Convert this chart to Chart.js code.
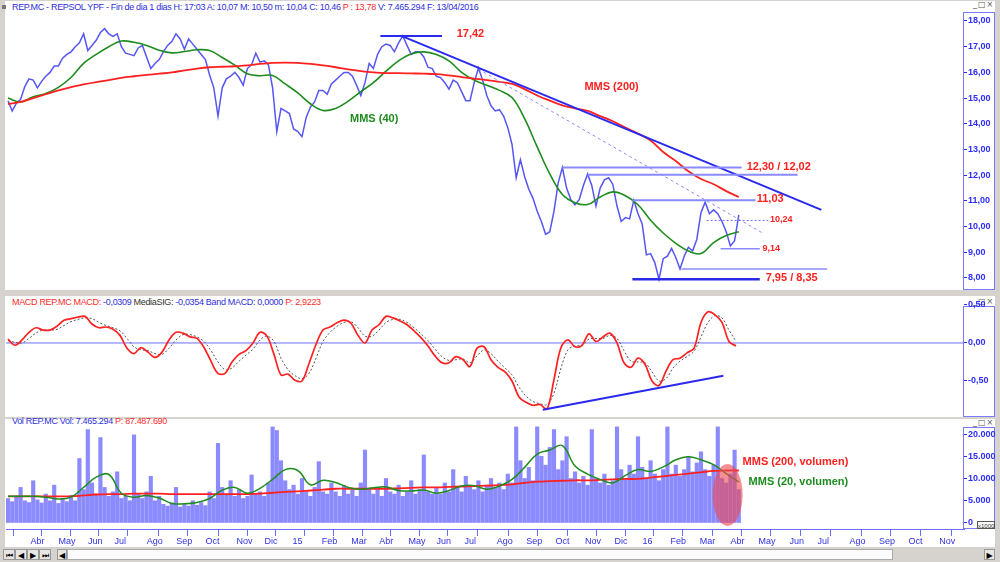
<!DOCTYPE html>
<html>
<head>
<meta charset="utf-8">
<script src="https://cdn.jsdelivr.net/npm/chart.js@4.4.1/dist/chart.umd.min.js"></script>
<style>
  body { margin: 0; width: 1000px; height: 562px; background: #d6d3ce; position: relative; overflow: hidden;
         font-family: "Liberation Sans", Arial, sans-serif; }
  .panel { position: absolute; background: #fff; }
  .axisbox { position: absolute; border: 1px solid #7b7bff; background: #fff; box-sizing: border-box; }
  .chart { position: absolute; }
  .hdr { position: absolute; font-size: 9px; line-height: 11px; white-space: nowrap; color: #2f2fdc; letter-spacing: -0.32px; }
  .r { color: #ff2b2b; }
  .k { color: #333; }
  .ctl { position: absolute; font: 8px "DejaVu Sans", sans-serif; color: #555; letter-spacing: 1px; }
  .btn { position: absolute; top: 549px; height: 11px; width: 12px; font: 8px "DejaVu Sans", sans-serif;
         color: #000; text-align: center; line-height: 11px; background: #e8e6e2; border: 1px solid #999; box-sizing: border-box; }
</style>
</head>
<body>
<div class="panel" style="left:5px;top:1px;width:990px;height:289px"></div>
<div class="panel" style="left:5px;top:296px;width:990px;height:121px"></div>
<div class="panel" style="left:5px;top:419px;width:990px;height:128px"></div>

<div class="axisbox" style="left:963px;top:12px;width:32px;height:278px"></div>
<div class="axisbox" style="left:963px;top:306px;width:32px;height:111px"></div>
<div class="axisbox" style="left:963px;top:427px;width:32px;height:102px"></div>

<div style="position:absolute;left:2px;top:5px;width:4px;height:4px;background:#777"></div>
<div class="hdr" style="left:12px;top:2px">REP.MC - REPSOL YPF - Fin de dia 1 dias H: 17:03 A: 10,07 M: 10,50 m: 10,04 C: 10,46 <span class="r">P : 13,78</span> V: 7.465.294 F: 13/04/2016</div>
<div class="hdr" style="left:12px;top:297px"><span class="r">MACD REP.MC MACD:</span> -0,0309 <span class="k">MediaSIG:</span> -0,0354 Band MACD: 0,0000 <span class="r">P: 2,9223</span></div>
<div class="hdr" style="left:12px;top:416px">Vol REP.MC Vol: 7.465.294 <span class="r">P: 87.487.690</span></div>

<div class="ctl" style="left:973px;top:0px">_□×</div>
<div class="ctl" style="left:973px;top:297px">_□×</div>
<div class="ctl" style="left:973px;top:418px">_□×</div>

<div style="position:absolute;left:977px;top:521px;width:18px;height:8px;border:1px solid #555;background:#fff;font:6px 'Liberation Sans',Arial;line-height:8px;text-align:center;box-sizing:border-box;color:#333">x1000</div>

<div class="chart" style="left:6px;top:12px;width:990px;height:278px"><canvas id="priceChart"></canvas></div>
<div class="chart" style="left:6px;top:297px;width:990px;height:120px"><canvas id="macdChart"></canvas></div>
<div class="chart" style="left:6px;top:418px;width:990px;height:130px"><canvas id="volumeChart"></canvas></div>

<div class="btn" style="left:3px">⏮</div>
<div class="btn" style="left:15px">◀</div>
<div class="btn" style="left:27px">▶</div>
<div class="btn" style="left:39px">⏭</div>
<div class="btn" style="left:57px;width:10px">◀</div>
<div style="position:absolute;left:67px;top:549px;width:826px;height:11px;background:#fbfbfb;border:1px solid #aaa;box-sizing:border-box"></div>
<div class="btn" style="left:984px;width:11px">▶</div>

<script>
// x axis is the trading-session index (session 0 = mid March 2014)
const monthTicks = [14, 34, 55, 74, 97, 118, 139, 161, 181, 201, 222, 243, 263, 284, 304, 324,
  347, 368, 389, 410, 431, 451, 471, 492, 514, 534, 556, 576, 599, 620, 641, 663];
const monthLabels = ["Abr", "May", "Jun", "Jul", "Ago", "Sep", "Oct", "Nov", "Dic", "15", "Feb", "Mar",
  "Abr", "May", "Jun", "Jul", "Ago", "Sep", "Oct", "Nov", "Dic", "16", "Feb", "Mar",
  "Abr", "May", "Jun", "Jul", "Ago", "Sep", "Oct", "Nov"];

const priceTicks = [8, 9, 10, 11, 12, 13, 14, 15, 16, 17, 18];
const macdTicks = [0.5, 0, -0.5];
const volumeTicks = [0, 5000, 10000, 15000, 20000];

// closes, one every 3 sessions
const closeStep = 3;
const closes = [
  14.9, 14.5, 14.8, 14.95, 15.45, 15.75, 15.7, 15.4, 15.65, 15.85,
  16.0, 16.25, 16.25, 16.55, 16.7, 16.8, 17.0, 17.15, 17.5, 16.85,
  17.05, 17.25, 17.55, 17.7, 17.5, 17.4, 17.5, 17.0, 16.75, 16.7,
  16.65, 16.95, 17.05, 16.6, 16.15, 16.35, 16.5, 16.8, 17.05, 17.2,
  17.5, 17.3, 16.9, 17.3, 17.1, 16.9, 16.7, 16.5, 15.9, 15.4,
  14.3, 15.4, 15.75, 15.85, 16.0, 15.8, 15.5, 16.15, 16.3, 16.75,
  16.4, 16.45, 16.3, 15.4, 13.7, 14.6, 14.5, 14.4, 13.8, 13.7,
  13.5, 14.25, 14.65, 14.85, 15.3, 15.3, 15.15, 15.55, 15.7, 15.85,
  16.0, 16.0, 15.85, 15.5, 15.1, 15.6, 16.35, 16.15, 16.7, 17.0,
  17.1, 17.05, 16.8, 17.15, 17.42, 17.05, 16.7, 16.8, 16.8, 16.6,
  16.2, 16.15, 15.85, 15.8, 15.6, 15.35, 15.7, 15.6, 15.25, 14.9,
  14.9, 15.6, 16.17, 15.7, 15.1, 14.7, 14.5, 14.55, 14.3, 13.85,
  13.2, 11.9, 12.6, 11.95, 11.45, 11.1, 10.6, 10.2, 9.7, 9.8,
  10.6, 11.7, 12.3, 11.5, 11.05, 10.85, 11.05, 11.6, 12.05, 11.6,
  10.8, 11.5, 11.82, 11.9, 11.65, 10.8, 10.2, 10.35, 10.3, 11.03,
  10.5, 10.1, 8.9, 8.95, 8.6, 7.95, 8.75, 8.85, 9.15, 8.8,
  8.35, 8.85, 9.2, 9.05, 9.5, 10.55, 10.95, 10.5, 10.65, 10.5,
  10.2, 9.8, 9.25, 9.45, 10.46
];

// moving averages, one every 9 sessions
const maStep = 9;
const mms40 = [
  15.0, 14.85, 15.05, 15.18, 15.42, 15.8, 16.35, 16.7, 17.0, 17.22,
  17.17, 17.05, 16.86, 16.76, 16.81, 16.88, 16.85, 16.58, 16.28, 15.95,
  15.87, 15.88, 15.55, 15.2, 14.78, 14.52, 14.6, 14.88, 15.25, 15.6,
  16.05, 16.45, 16.72, 16.8, 16.7, 16.45, 16.0, 15.7, 15.5, 15.3,
  15.02, 14.2, 13.1, 12.05, 11.25, 10.93, 10.86, 11.15, 11.35, 11.2,
  10.85, 10.25, 9.75, 9.35, 9.05, 8.95, 9.38, 9.65, 9.8
];
const mms200 = [
  14.77, 14.85, 15.0, 15.15, 15.3, 15.43, 15.53, 15.62, 15.7, 15.79,
  15.85, 15.9, 15.95, 16.0, 16.08, 16.15, 16.2, 16.22, 16.24, 16.27,
  16.33, 16.37, 16.38, 16.37, 16.33, 16.27, 16.2, 16.12, 16.05, 16.0,
  15.97, 15.97, 15.96, 15.95, 15.93, 15.88, 15.82, 15.76, 15.7, 15.63,
  15.55, 15.35, 15.1, 14.9, 14.72, 14.6, 14.5, 14.3, 14.1, 13.85,
  13.62, 13.35, 12.9, 12.55, 12.15, 11.85, 11.65, 11.38, 11.15
];

// support / resistance levels drawn on the price panel
const levelValues = [17.42, 12.30, 12.02, 11.03, 10.24, 9.14, 8.35, 7.95];
const levelFrom = [266, 396, 414, 446, 499, 509, 481, 446];
const levelTo = [310, 524, 564, 534, 543, 537, 585, 537];

// trend lines: [solid, dotted]
const trendFrom = [281, 336];
const trendTo = [581, 539];
const trendStart = [17.42, 16.13];
const trendEnd = [10.65, 9.75];

// MACD, one every 5 sessions
const macdStep = 5;
const macdLine = [
  0.05, -0.03, 0.04, 0.14, 0.2, 0.17, 0.17, 0.22, 0.3, 0.32,
  0.34, 0.35, 0.25, 0.2, 0.21, 0.18, 0.1, -0.07, -0.14, -0.06,
  -0.12, -0.19, -0.12, 0.04, 0.14, 0.13, 0.08, 0.06, -0.06, -0.24,
  -0.4, -0.4, -0.25, -0.15, -0.1, 0.0, 0.14, 0.09, -0.15, -0.42,
  -0.41, -0.49, -0.5, -0.27, -0.02, 0.17, 0.21, 0.265, 0.3, 0.26,
  0.1, 0.0, 0.17, 0.24, 0.35, 0.33, 0.29, 0.24, 0.16, 0.07,
  -0.04, -0.17, -0.26, -0.26, -0.18, -0.22, -0.31, -0.07, -0.05, -0.22,
  -0.32, -0.38, -0.5, -0.71, -0.78, -0.82, -0.81, -0.87, -0.48, -0.06,
  0.04, -0.05, -0.03, 0.12, 0.02, 0.08, 0.13, 0.0, -0.26, -0.32,
  -0.2, -0.28, -0.5, -0.56, -0.37, -0.22, -0.2, -0.13, -0.07, 0.27,
  0.41, 0.37, 0.27, 0.02, -0.04
];
const macdSignal = [
  0.03, 0.01, 0.0, 0.06, 0.13, 0.17, 0.17, 0.18, 0.23, 0.28,
  0.31, 0.33, 0.32, 0.27, 0.23, 0.2, 0.16, 0.06, -0.05, -0.09,
  -0.1, -0.14, -0.15, -0.07, 0.04, 0.11, 0.11, 0.08, 0.02, -0.1,
  -0.25, -0.35, -0.33, -0.24, -0.16, -0.08, 0.04, 0.09, 0.02, -0.2,
  -0.35, -0.43, -0.47, -0.4, -0.2, 0.02, 0.14, 0.22, 0.27, 0.28,
  0.2, 0.09, 0.09, 0.17, 0.27, 0.31, 0.31, 0.27, 0.2, 0.12,
  0.03, -0.08, -0.18, -0.23, -0.22, -0.21, -0.26, -0.17, -0.09, -0.14,
  -0.24, -0.33, -0.42, -0.58, -0.7, -0.77, -0.8, -0.81, -0.66, -0.33,
  -0.09, -0.04, -0.03, 0.05, 0.06, 0.06, 0.1, 0.06, -0.1, -0.24,
  -0.25, -0.26, -0.38, -0.5, -0.47, -0.33, -0.24, -0.18, -0.11, 0.08,
  0.27, 0.36, 0.33, 0.17, 0.02
];
const macdBand = 0;
const macdTrendX = [382, 511];
const macdTrendY = [-0.88, -0.43];

// volume in thousands of shares, one bar every 3 sessions
const volumeStep = 3;
const volume = [
  5500, 4800, 6000, 8000, 5000, 4600, 9500, 5200, 4500, 6500,
  5000, 8500, 4400, 5500, 4800, 6200, 5000, 14500, 7500, 21000,
  9000, 6500, 19200, 8000, 6000, 7000, 11500, 5500, 6000, 5000,
  19800, 6500, 5500, 7000, 10500, 5000, 6000, 4200, 3800, 4500,
  8000, 3600, 4300, 3800, 5000, 4000, 4600, 3900, 7000, 5500,
  17900, 8000, 6500, 9500, 6000, 7500, 5500, 6000, 10800, 6500,
  7000, 6000, 9000, 21600, 20800, 14000, 9500, 7500, 8500, 6500,
  10000, 7000, 6000, 8000, 13800, 7000, 6500, 9000, 7000, 6000,
  8500, 6500, 7500, 6000, 9000, 16400, 7500, 6500, 8000, 6000,
  10000, 7000, 6500, 8500, 6000, 7000, 9500, 6500, 7500, 15300,
  7000, 6500, 8000, 6500, 9000, 7000, 12000, 8000, 7000, 10500,
  8000, 7500, 9500, 7000, 8500, 10000, 8000, 9000, 7500, 11000,
  9000, 21600, 14000, 10000, 12500, 9500, 21600, 15000, 13000, 17000,
  21000, 12000, 14000, 19400, 10000, 11500, 9000, 10500, 8500, 21000,
  10000, 9000, 11000, 8500, 9500, 21600, 12000, 10000, 13000, 11000,
  19400, 12500, 10000, 14000, 11000, 9500, 12000, 21600, 11000, 13000,
  10500, 12000, 15000, 11500, 13500, 16000, 12000, 10500, 13000, 21600,
  10000, 9000, 11000, 16400, 7500
];
const volumeMms20 = [
  6000, 6000, 6000, 5800, 5400, 5800, 8000, 10300, 10900, 6700,
  5800, 6200, 5600, 4400, 4300, 4600, 5500, 7400, 8000, 6700,
  7800, 9800, 12000, 11800, 8600, 9600, 9100, 8000, 7600, 7900,
  8100, 7300, 7200, 7400, 6700, 7300, 8300, 8400, 7600, 8300,
  9800, 12500, 15500, 16400, 17400, 12800, 11000, 9800, 9000, 10700,
  12000, 11600, 12600, 14200, 14900, 14200, 13100, 11100, 9200
];
const volumeMms200 = [
  6000, 6000, 6000, 6000, 6000, 6000, 6200, 6400, 6500, 6500,
  6600, 6600, 6600, 6500, 6500, 6500, 6500, 6500, 6500, 6500,
  6600, 6800, 7000, 7100, 7300, 7500, 7700, 7700, 7700, 7700,
  7700, 7800, 7900, 8000, 8000, 8100, 8200, 8300, 8400, 8500,
  8700, 9000, 9300, 9400, 9500, 9600, 9600, 9700, 9800, 9900,
  9900, 10200, 10500, 10800, 11100, 11400, 11700, 11800, 11800
];

const RED = "#ff2020";
const GREEN = "#1e8c1e";
const BLUE = "#2a2aee";
const AXIS_BLUE = "#2c2cff";
const X_MIN = -1.43;
const X_MAX = 682.86;

Chart.defaults.font.family = '"Liberation Sans", Arial, sans-serif';
Chart.defaults.animation = false;

const decimal = new Intl.NumberFormat("de-DE", { minimumFractionDigits: 2, maximumFractionDigits: 2 });
const thousands = new Intl.NumberFormat("de-DE", { maximumFractionDigits: 0 });

function series(values, step) {
  return values.map((v, i) => ({ x: i * step, y: v }));
}

function segment(x0, x1, y0, y1) {
  return [{ x: x0, y: y0 }, { x: x1, y: y1 }];
}

function line(data, color, width, extra) {
  return Object.assign({
    type: "line", data, borderColor: color, borderWidth: width,
    pointRadius: 0, fill: false, tension: 0,
  }, extra || {});
}

function notesPlugin(items, ellipses) {
  return {
    id: "notes",
    afterDatasetsDraw(chart) {
      const { ctx, scales } = chart;
      ctx.save();
      (ellipses || []).forEach((e) => {
        ctx.beginPath();
        ctx.ellipse(scales.x.getPixelForValue(e.x), scales.y.getPixelForValue(e.y), e.rx, e.ry, 0, 0, Math.PI * 2);
        ctx.fillStyle = e.color;
        ctx.fill();
      });
      items.forEach((n) => {
        ctx.font = `bold ${n.size}px "Liberation Sans", Arial, sans-serif`;
        ctx.fillStyle = n.color;
        ctx.textBaseline = "middle";
        ctx.fillText(n.text, scales.x.getPixelForValue(n.x), scales.y.getPixelForValue(n.y));
      });
      ctx.restore();
    },
  };
}

function xScale(show) {
  return {
    type: "linear", min: X_MIN, max: X_MAX, offset: false, display: show,
    afterBuildTicks: (axis) => { axis.ticks = monthTicks.map((v) => ({ value: v })); },
    afterFit: (axis) => { axis.height = show ? 19 : 0; axis.paddingLeft = 0; axis.paddingRight = 0; },
    ticks: {
      autoSkip: false, maxRotation: 0, align: "start", labelOffset: 3, padding: 0,
      color: "#3030e0", font: { size: 9 },
      callback: (value, index) => monthLabels[index],
    },
    grid: { drawOnChartArea: false, tickLength: 7, color: "#6c6cff" },
    border: { color: "#6c6cff" },
  };
}

function yScale(min, max, ticks, format) {
  return {
    position: "right", min, max,
    afterBuildTicks: (axis) => { axis.ticks = ticks.map((v) => ({ value: v })); },
    afterFit: (axis) => { axis.width = 32; axis.paddingTop = 0; axis.paddingBottom = 0; },
    ticks: { color: AXIS_BLUE, font: { size: 9, weight: "bold" }, padding: 1, callback: format },
    grid: { drawOnChartArea: false, tickLength: 3, color: AXIS_BLUE },
    border: { display: false },
  };
}

const baseOptions = (y, showX) => ({
  responsive: true,
  maintainAspectRatio: false,
  layout: { padding: 0 },
  plugins: { legend: { display: false }, tooltip: { enabled: false } },
  scales: { x: xScale(showX), y },
});

// ---- price panel
const levelWidths = [2, 2, 2, 2, 1, 1.5, 1.5, 2.5];
const levelColors = [BLUE, "#8a8aff", "#8a8aff", "#8a8aff", "#6c6cff", "#8a8aff", "#8a8aff", "#2a2ae6"];
const priceDatasets = [
  line(series(closes, closeStep), "#5656f4", 1.5, { order: 9 }),
  line(series(mms200, maStep), RED, 1.8, { tension: 0.4, order: 5 }),
  line(series(mms40, maStep), GREEN, 1.6, { tension: 0.4, order: 5 }),
  line(segment(trendFrom[0], trendTo[0], trendStart[0], trendEnd[0]), BLUE, 2, { order: 2 }),
  line(segment(trendFrom[1], trendTo[1], trendStart[1], trendEnd[1]), "#8c8cf2", 1, { borderDash: [3, 3], order: 2 }),
];
levelValues.forEach((v, i) => {
  priceDatasets.push(line(segment(levelFrom[i], levelTo[i], v, v), levelColors[i], levelWidths[i],
    { borderDash: i === 4 ? [2, 2] : [], order: 1 }));
});

const priceNotes = [
  { text: "17,42", x: 320.5, y: 17.49, color: RED, size: 11 },
  { text: "MMS (200)", x: 411.7, y: 15.44, color: RED, size: 11 },
  { text: "MMS (40)", x: 244.3, y: 14.18, color: GREEN, size: 11 },
  { text: "12,30 / 12,02", x: 527.6, y: 12.31, color: RED, size: 11 },
  { text: "11,03", x: 534.8, y: 11.06, color: RED, size: 11 },
  { text: "10,24", x: 544.3, y: 10.26, color: RED, size: 9 },
  { text: "9,14", x: 539, y: 9.13, color: RED, size: 9 },
  { text: "7,95 / 8,35", x: 541.2, y: 7.99, color: RED, size: 11 },
];

new Chart(document.getElementById("priceChart"), {
  type: "line",
  data: { datasets: priceDatasets },
  options: baseOptions(yScale(7.533, 18.35, priceTicks, (v) => decimal.format(v)), false),
  plugins: [notesPlugin(priceNotes)],
});

// ---- MACD panel
new Chart(document.getElementById("macdChart"), {
  type: "line",
  data: {
    datasets: [
      line(segment(X_MIN, X_MAX, macdBand, macdBand), "#6f6fff", 1, { order: 9 }),
      line(series(macdSignal, macdStep), "#555", 1, { borderDash: [2, 2], tension: 0.35, order: 4 }),
      line(series(macdLine, macdStep), RED, 1.7, { tension: 0.35, order: 2 }),
      line(segment(macdTrendX[0], macdTrendX[1], macdTrendY[0], macdTrendY[1]), BLUE, 2, { order: 1 }),
    ],
  },
  options: baseOptions(yScale(-0.974, 0.605, macdTicks, (v) => decimal.format(v)), false),
});

// ---- volume panel
const volumeNotes = [
  { text: "MMS (200, volumen)", x: 524.7, y: 13700, color: RED, size: 11 },
  { text: "MMS (20, volumen)", x: 529, y: 9300, color: GREEN, size: 11 },
];
const volumeHighlight = [{ x: 514, y: 6300, rx: 15, ry: 31, color: "rgba(238, 74, 86, 0.62)" }];

new Chart(document.getElementById("volumeChart"), {
  type: "bar",
  data: {
    datasets: [
      { type: "bar", data: series(volume, volumeStep), backgroundColor: "rgba(110, 110, 255, 0.8)",
        barThickness: 3.5, grouped: false, order: 9 },
      line(series(volumeMms200, maStep), RED, 1.8, { tension: 0.4, order: 3 }),
      line(series(volumeMms20, maStep), GREEN, 1.5, { tension: 0.4, order: 2 }),
    ],
  },
  options: baseOptions(yScale(-1350, 23600, volumeTicks, (v) => thousands.format(v)), true),
  plugins: [notesPlugin(volumeNotes, volumeHighlight)],
});
</script>
</body>
</html>
